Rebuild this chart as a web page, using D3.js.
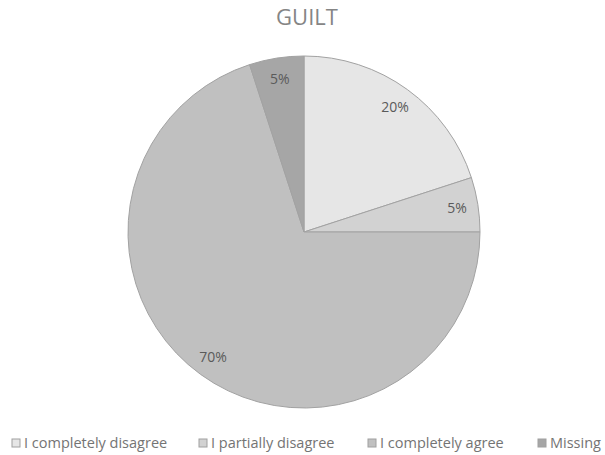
<!DOCTYPE html>
<html>
<head>
<meta charset="utf-8">
<script src="https://cdn.jsdelivr.net/npm/d3@7"></script>
<style>
  body { margin: 0; background: #fff; }
  svg { font-family: "Open Sans", "Liberation Sans", sans-serif; }
</style>
</head>
<body>
<div id="chart"></div>
<script>
'use strict';

var categories = ["I completely disagree", "I partially disagree", "I completely agree", "Missing"];
var values = [20, 5, 70, 5];
var labels = ["20%", "5%", "70%", "5%"];
var colors = ["#e6e6e6", "#d2d2d2", "#c0c0c0", "#a6a6a6"];

var width = 605, height = 455;
var cx = 304, cy = 232, radius = 176;

var svg = d3.select("#chart").append("svg")
  .attr("width", width).attr("height", height);

/******************** title ********************/
svg.append("text")
  .attr("x", 307).attr("y", 25)
  .attr("text-anchor", "middle")
  .style("font-size", "22px")
  .style("fill", "#858585")
  .text("GUILT");

/******************** pie ********************/
var pie = d3.pie().sort(null).value(function(d) { return d; });
var arc = d3.arc().innerRadius(0).outerRadius(radius);
var labelArc = d3.arc().innerRadius(radius * 0.88).outerRadius(radius * 0.88);

var g = svg.append("g").attr("transform", "translate(" + cx + "," + cy + ")");
var arcs = pie(values);

g.selectAll("path.slice").data(arcs).enter().append("path")
  .attr("class", "slice")
  .attr("d", arc)
  .style("fill", function(d, i) { return colors[i]; })
  .style("stroke", "#a2a2a2")
  .style("stroke-width", 1);

g.selectAll("text.lbl").data(arcs).enter().append("text")
  .attr("class", "lbl")
  .attr("transform", function(d) { return "translate(" + labelArc.centroid(d) + ")"; })
  .attr("text-anchor", "middle")
  .attr("dy", "0.35em")
  .style("font-size", "14px")
  .style("fill", "#5a5a5a")
  .text(function(d, i) { return labels[i]; });

/******************** legend ********************/
var legendX = [12, 199, 368, 538];
var legend = svg.append("g").attr("class", "legend");
categories.forEach(function(c, i) {
  legend.append("rect")
    .attr("x", legendX[i]).attr("y", 439)
    .attr("width", 8).attr("height", 8)
    .style("fill", colors[i])
    .style("stroke", "#a0a0a0");
  legend.append("text")
    .attr("x", legendX[i] + 12).attr("y", 448)
    .style("font-size", "14.5px")
    .style("fill", "#747474")
    .text(c);
});
</script>
</body>
</html>
